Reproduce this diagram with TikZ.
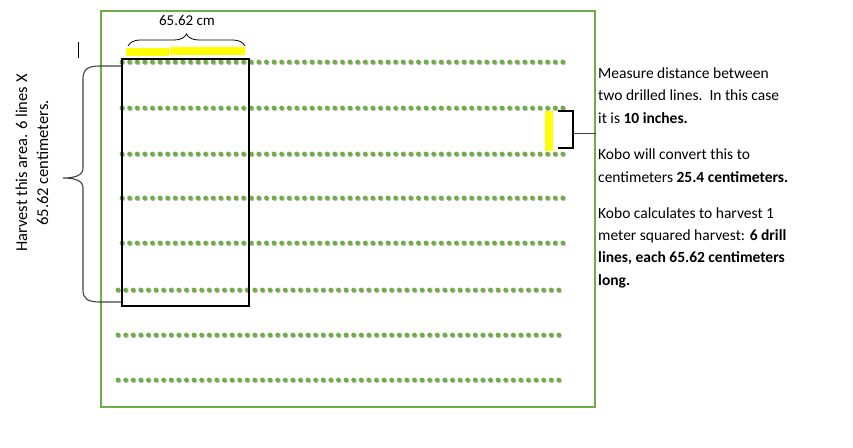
\documentclass[tikz,border=0pt]{standalone}
\usepackage{fontspec}
\setmainfont{Carlito}
\usetikzlibrary{decorations.pathreplacing}
\definecolor{rowgreen}{RGB}{112,173,71}
\definecolor{markyellow}{RGB}{255,255,0}
\definecolor{bracegray}{RGB}{64,64,64}

\begin{document}
\begin{tikzpicture}[x=1pt, y=-1pt, font=\fontsize{15.5}{22.3}\selectfont,
    seedrow/.style={rowgreen, line width=4.8pt, line cap=round, dash pattern=on 0pt off 7.6pt},
    seedshadow/.style={black!25, line width=4.8pt, line cap=round, dash pattern=on 0pt off 7.6pt},
    note/.style={anchor=base west, align=left, inner sep=0pt}]
    \useasboundingbox (0,0) rectangle (853,447);

    % Plot frame
    \draw[rowgreen, line width=2pt] (101,11) rectangle (595,407);

    % Drilled lines
    \foreach \y in {62,108,154,198,243} {
        \draw[seedshadow] (122.8,\y+0.8) -- (563.8,\y+0.8);
        \draw[seedrow] (122,\y) -- (563,\y);
    }
    \foreach \y in {290,335,380} {
        \draw[seedshadow] (118.8,\y+0.8) -- (566.8,\y+0.8);
        \draw[seedrow] (118,\y) -- (566,\y);
    }

    % Harvest area
    \node[draw, line width=2pt, minimum width=127pt, minimum height=247pt,
          inner sep=0pt, anchor=north west] (harvestbox) at (121,58) {};

    % Length of the area
    \fill[markyellow] (126,48) rectangle (169,56);
    \fill[markyellow] (170,47) rectangle (245,55);
    \coordinate (widthA) at (128,46);
    \coordinate (widthB) at (245,46);
    \draw[decorate, decoration={brace, amplitude=12pt}, line width=0.8pt] (widthA) -- (widthB);
    \node[font=\fontsize{15}{18}\selectfont] (widthlabel) at (187,20) {65.62 cm};

    % Six lines brace
    \coordinate (braceTop) at (harvestbox.north west |- 0,66);
    \coordinate (braceBot) at (harvestbox.north west |- 0,302);
    \draw[bracegray, line width=1.1pt] (braceTop) -- (100,66)
        .. controls (88,66) and (83,69) .. (83,79) -- (83,168)
        .. controls (83,175) and (76,178) .. (63,178)
        .. controls (76,178) and (83,181) .. (83,188) -- (83,290)
        .. controls (83,299) and (88,302) .. (100,302) -- (braceBot);
    \draw (78,42) -- (78,58);
    \node[rotate=90, align=center, font=\fontsize{16.5}{21}\selectfont] (harvestnote) at (32,163)
        {Harvest this area. 6 lines X\\65.62 centimeters.};

    % Row distance
    \fill[markyellow] (545,111) rectangle (553,151);
    \draw[line width=2pt] (558,110.5) -- (573,110.5) -- (573,148) -- (558,148);
    \coordinate (gapmid) at (573,133);
    \coordinate (gapend) at (596,133);
    \draw[bracegray] (gapmid) -- (gapend);

    % Notes (anchored at the baseline of their last line)
    \node[note] (measure) at (598,123)
        {Measure distance between\\two drilled lines.\ \ In this case\\it is \textbf{10 inches.}};
    \node[note] (convert) at (598,182)
        {Kobo will convert this to\\centimeters \textbf{25.4 centimeters.}};
    \node[note] (calc) at (598,285)
        {Kobo calculates to harvest 1\\meter squared harvest: \textbf{6 drill}\\\textbf{lines, each 65.62 centimeters}\\\textbf{long.}};
\end{tikzpicture}
\end{document}
